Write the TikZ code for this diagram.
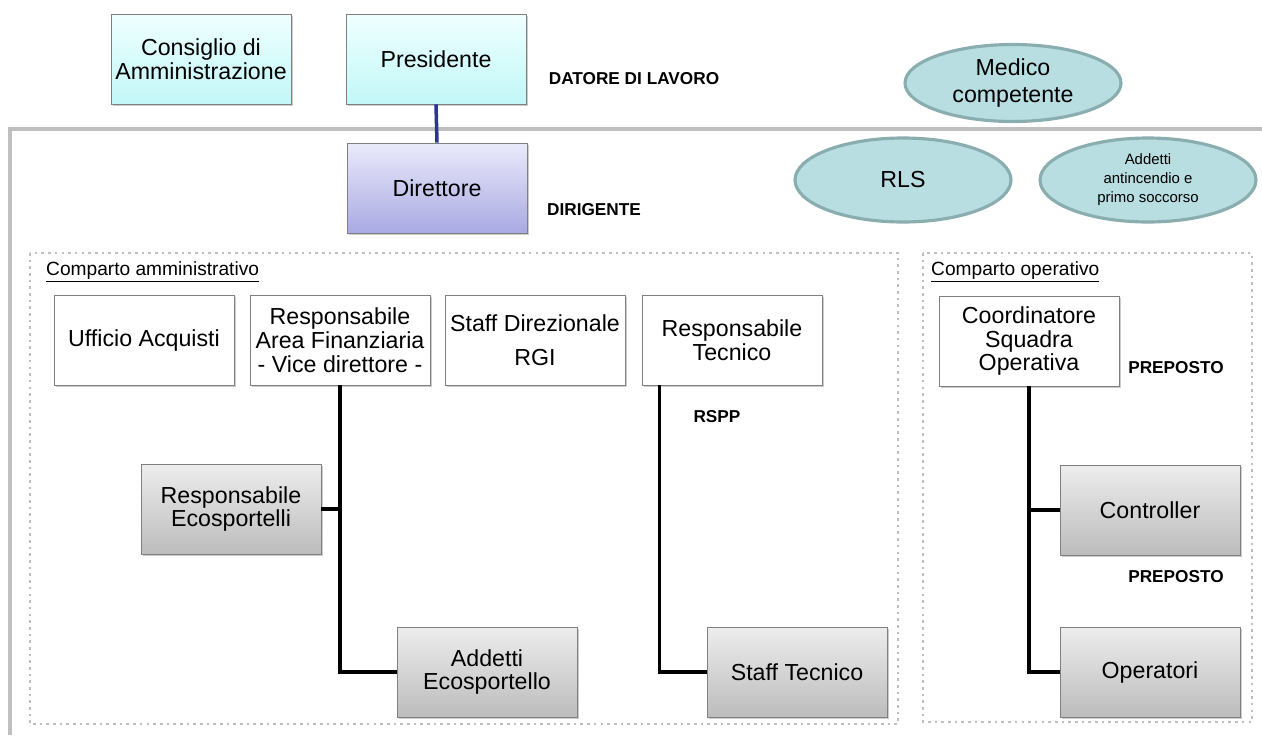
\documentclass[tikz,border=0pt]{standalone}
\usepackage{fontspec}
\setmainfont{Liberation Sans}
\usetikzlibrary{positioning,calc,shadows,shapes.geometric}

\definecolor{cyantop}{HTML}{EFFFFF}
\definecolor{cyanbot}{HTML}{C2F7F7}
\definecolor{lavtop}{HTML}{EAEAFA}
\definecolor{lavbot}{HTML}{A9A9E4}
\definecolor{graytop}{HTML}{EDEDED}
\definecolor{graybot}{HTML}{BCBCBC}
\definecolor{ovalfill}{HTML}{B8DEE1}
\definecolor{ovaledge}{HTML}{8AAEB0}
\definecolor{framegray}{HTML}{BFBFBF}
\definecolor{linknavy}{HTML}{2B3595}

\tikzset{
    box/.style = {draw=black!50, minimum width=3.6cm, minimum height=1.8cm, inner sep=2pt,
                  align=center, font=\fontsize{13.2}{13.6}\selectfont,
                  drop shadow={opacity=0.4, shadow xshift=0.9pt, shadow yshift=-1.1pt}},
    plainbox/.style = {box, fill=white},
    bluebox/.style = {box, top color=cyantop, bottom color=cyanbot},
    purplebox/.style = {box, top color=lavtop, bottom color=lavbot},
    graybox/.style = {box, top color=graytop, bottom color=graybot},
    oval/.style = {ellipse, draw=ovaledge, line width=1.8pt, fill=ovalfill, inner sep=0pt,
                   minimum width=4.32cm, minimum height=1.68cm, align=center,
                   font=\fontsize{13.2}{15.8}\selectfont},
    role/.style = {font=\fontsize{9.8}{11}\selectfont\bfseries},
    zonetitle/.style = {anchor=west, font=\fontsize{10.9}{12}\selectfont},
    zone/.style = {draw=framegray, line width=1.5pt, dash pattern=on 1.5pt off 2.3pt},
    tree/.style = {draw=black, line width=2pt},
    link/.style = {draw=linknavy, line width=2pt}
}

\begin{document}
\begin{tikzpicture}[x=0.02cm, y=-0.02cm]
    \useasboundingbox (0,0) rectangle (1262,735);

    % frames
    \draw[draw=framegray, line width=2pt] (10,735) |- (1262,129);
    \draw[zone] (30,253) rectangle (898,724);
    \draw[zone] (923,253) rectangle (1252,722);
    \node[zonetitle] (tadm) at (40,272) {\underline{Comparto amministrativo}};
    \node[zonetitle] (top) at (925,272) {\underline{Comparto operativo}};

    % vertice
    \node[bluebox] (cda) at (201,59) {Consiglio di\\Amministrazione};
    \node[bluebox] (pres) at (436,59) {Presidente};
    \node[role] (datore) at (634,79) {DATORE DI LAVORO};
    \node[purplebox] (dir) at (437,188) {Direttore};
    \node[role] (dirig) at (594,210) {DIRIGENTE};

    \node[oval, minimum height=1.54cm] (medico) at (1013,83) {Medico\\competente};
    \node[oval] (rls) at (903,180) {RLS};
    \node[oval, font=\fontsize{8.5}{10.8}\selectfont] (antinc) at (1148,180) {Addetti\\antincendio e\\primo soccorso};

    % comparto amministrativo
    \node[plainbox] (uff) at (144,340) {Ufficio Acquisti};
    \node[plainbox] (raf) at (340,340) {Responsabile\\Area Finanziaria\\- Vice direttore -};
    \node[plainbox] (sdr) at (535,340) {Staff Direzionale\\[6pt]RGI};
    \node[plainbox] (rt) at (732,340) {Responsabile\\Tecnico};
    \node[graybox] (reco) at (231,509) {Responsabile\\Ecosportelli};
    \node[graybox] (aeco) at (487,672) {Addetti\\Ecosportello};
    \node[graybox] (stec) at (797,672) {Staff Tecnico};
    \node[role] (rspp) at (717,417) {RSPP};

    % comparto operativo
    \node[plainbox] (cso) at (1029,341) {Coordinatore\\Squadra\\Operativa};
    \node[graybox] (ctrl) at (1150,510) {Controller};
    \node[graybox] (oper) at (1150,672) {Operatori};
    \node[role] (prep1) at (1176,368) {PREPOSTO};
    \node[role] (prep2) at (1176,577) {PREPOSTO};

    \draw[link] (pres.south) -- (dir.north);
    \draw[tree] (raf.south) |- (reco.east);
    \draw[tree] (raf.south) |- (aeco.west);
    \draw[tree] ($(rt.south west)!0.1!(rt.south east)$) |- (stec.west);
    \draw[tree] (cso.south) |- (ctrl.west);
    \draw[tree] (cso.south) |- (oper.west);
\end{tikzpicture}
\end{document}
